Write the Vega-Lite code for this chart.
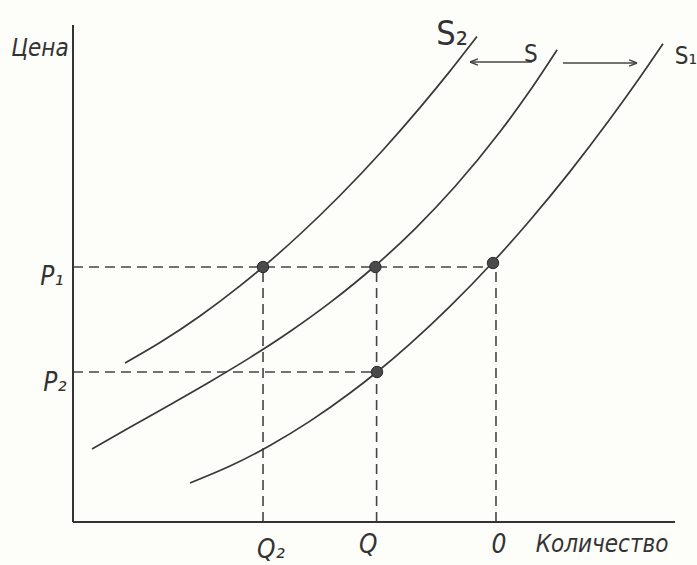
{
  "$schema": "https://vega.github.io/schema/vega-lite/v6.json",
  "width": 600,
  "height": 500,
  "autosize": {"type": "none"},
  "padding": {"left": 73, "top": 22, "right": 24, "bottom": 43},
  "background": "#fdfdfa",
  "config": {"view": {"stroke": null}},
  "datasets": {
    "curves": [
      {"series": "S2", "q": 8.67, "p": 31.8},
      {"series": "S2", "q": 14.5, "p": 35.89},
      {"series": "S2", "q": 21.17, "p": 41.21},
      {"series": "S2", "q": 27.83, "p": 47.23},
      {"series": "S2", "q": 31.67, "p": 51.0},
      {"series": "S2", "q": 37.83, "p": 57.55},
      {"series": "S2", "q": 44.5, "p": 65.3},
      {"series": "S2", "q": 51.67, "p": 74.4},
      {"series": "S2", "q": 57.83, "p": 82.87},
      {"series": "S2", "q": 62.83, "p": 90.17},
      {"series": "S2", "q": 67.33, "p": 97.08},
      {"series": "S", "q": 3.17, "p": 14.6},
      {"series": "S", "q": 9.5, "p": 18.95},
      {"series": "S", "q": 16.17, "p": 23.46},
      {"series": "S", "q": 22.83, "p": 28.06},
      {"series": "S", "q": 29.5, "p": 32.88},
      {"series": "S", "q": 36.17, "p": 38.1},
      {"series": "S", "q": 42.83, "p": 43.87},
      {"series": "S", "q": 50.33, "p": 51.2},
      {"series": "S", "q": 57.0, "p": 58.64},
      {"series": "S", "q": 63.67, "p": 67.1},
      {"series": "S", "q": 71.17, "p": 78.04},
      {"series": "S", "q": 76.17, "p": 86.29},
      {"series": "S", "q": 80.67, "p": 94.42},
      {"series": "S1", "q": 19.5, "p": 7.8},
      {"series": "S1", "q": 26.17, "p": 11.18},
      {"series": "S1", "q": 32.83, "p": 15.3},
      {"series": "S1", "q": 39.5, "p": 20.17},
      {"series": "S1", "q": 46.17, "p": 25.79},
      {"series": "S1", "q": 50.67, "p": 30.0},
      {"series": "S1", "q": 56.17, "p": 35.62},
      {"series": "S1", "q": 62.83, "p": 43.12},
      {"series": "S1", "q": 70.0, "p": 52.0},
      {"series": "S1", "q": 76.17, "p": 60.36},
      {"series": "S1", "q": 82.83, "p": 70.08},
      {"series": "S1", "q": 89.5, "p": 80.58},
      {"series": "S1", "q": 94.5, "p": 88.94},
      {"series": "S1", "q": 98.33, "p": 95.64}
    ],
    "points": [
      {"q": 31.67, "p": 51.0},
      {"q": 50.4, "p": 51.0},
      {"q": 70.0, "p": 51.8},
      {"q": 50.67, "p": 30.0}
    ],
    "dashes": [
      {"q": 0, "p": 51.0, "q2": 70.0, "p2": 51.0},
      {"q": 0, "p": 30.0, "q2": 50.67, "p2": 30.0},
      {"q": 31.67, "p": 0, "q2": 31.67, "p2": 51.0},
      {"q": 50.6, "p": 0, "q2": 50.6, "p2": 51.0},
      {"q": 70.5, "p": 0, "q2": 70.5, "p2": 51.8}
    ],
    "axes": [
      {"q": 0, "p": 0, "q2": 0, "p2": 99.4},
      {"q": 0, "p": 0, "q2": 100.33, "p2": 0}
    ],
    "arrows": [
      {"q": 66.17, "p": 92.0, "q2": 76.5, "p2": 92.0},
      {"q": 81.67, "p": 91.8, "q2": 94.0, "p2": 91.8}
    ],
    "heads": [
      {"dir": "left", "q": 66.17, "p": 92.0},
      {"dir": "right", "q": 94.0, "p": 91.8}
    ],
    "labels": [
      {"kind": "axis", "text": "Цена", "q": -5.5, "p": 94.6},
      {"kind": "axis", "text": "Количество", "q": 88.17, "p": -4.6},
      {"kind": "level", "text": "P₁", "q": -3.5, "p": 49.0},
      {"kind": "level", "text": "P₂", "q": -3.0, "p": 27.8},
      {"kind": "level", "text": "Q₂", "q": 33.0, "p": -5.6},
      {"kind": "level", "text": "Q", "q": 49.2, "p": -4.6},
      {"kind": "level", "text": "0", "q": 71.0, "p": -4.6},
      {"kind": "big", "text": "S₂", "q": 63.2, "p": 97.4},
      {"kind": "curve", "text": "S", "q": 76.3, "p": 93.4},
      {"kind": "curveRight", "text": "S₁", "q": 100.3, "p": 93.0}
    ]
  },
  "encoding": {
    "x": {"field": "q", "type": "quantitative", "scale": {"domain": [0, 100], "nice": false, "zero": false}, "axis": null},
    "y": {"field": "p", "type": "quantitative", "scale": {"domain": [0, 100], "nice": false, "zero": false}, "axis": null}
  },
  "layer": [
    {
      "data": {"name": "dashes"},
      "mark": {"type": "rule", "color": "#444", "strokeWidth": 1.6, "strokeDash": [10, 6]},
      "encoding": {"x2": {"field": "q2"}, "y2": {"field": "p2"}}
    },
    {
      "data": {"name": "axes"},
      "mark": {"type": "rule", "color": "#333", "strokeWidth": 2},
      "encoding": {"x2": {"field": "q2"}, "y2": {"field": "p2"}}
    },
    {
      "data": {"name": "curves"},
      "mark": {"type": "line", "interpolate": "monotone", "color": "#383838"},
      "encoding": {
        "strokeWidth": {"field": "series", "type": "nominal", "scale": {"domain": ["S2", "S", "S1"], "range": [1.7, 1.7, 2.9]}, "legend": null}
      }
    },
    {
      "data": {"name": "points"},
      "mark": {"type": "point", "filled": true, "size": 130, "color": "#4a4a4a", "stroke": "#2a2a2a", "strokeWidth": 1, "opacity": 1}
    },
    {
      "data": {"name": "arrows"},
      "mark": {"type": "rule", "color": "#444", "strokeWidth": 1.5},
      "encoding": {"x2": {"field": "q2"}, "y2": {"field": "p2"}}
    },
    {
      "data": {"name": "heads"},
      "mark": {"type": "point", "filled": false, "size": 250, "color": "#444", "strokeWidth": 1.5, "opacity": 1},
      "encoding": {
        "shape": {"field": "dir", "type": "nominal", "scale": {"domain": ["left", "right"], "range": ["M0,0L1,-0.4M0,0L1,0.4", "M0,0L-1,-0.4M0,0L-1,0.4"]}, "legend": null}
      }
    },
    {
      "data": {"name": "labels"},
      "transform": [{"filter": "datum.kind === 'axis'"}],
      "mark": {"type": "text", "font": "Liberation Sans Narrow, DejaVu Sans Condensed, sans-serif", "fontStyle": "italic", "fontSize": 24, "color": "#333", "align": "center", "baseline": "middle"},
      "encoding": {"text": {"field": "text"}}
    },
    {
      "data": {"name": "labels"},
      "transform": [{"filter": "datum.kind === 'level'"}],
      "mark": {"type": "text", "font": "Liberation Sans Narrow, DejaVu Sans Condensed, sans-serif", "fontStyle": "italic", "fontSize": 26, "color": "#333", "align": "center", "baseline": "middle"},
      "encoding": {"text": {"field": "text"}}
    },
    {
      "data": {"name": "labels"},
      "transform": [{"filter": "datum.kind === 'big'"}],
      "mark": {"type": "text", "font": "Liberation Sans Narrow, DejaVu Sans Condensed, sans-serif", "fontSize": 34, "color": "#333", "align": "center", "baseline": "middle"},
      "encoding": {"text": {"field": "text"}}
    },
    {
      "data": {"name": "labels"},
      "transform": [{"filter": "datum.kind === 'curve'"}],
      "mark": {"type": "text", "font": "Liberation Sans Narrow, DejaVu Sans Condensed, sans-serif", "fontSize": 24, "color": "#333", "align": "center", "baseline": "middle"},
      "encoding": {"text": {"field": "text"}}
    },
    {
      "data": {"name": "labels"},
      "transform": [{"filter": "datum.kind === 'curveRight'"}],
      "mark": {"type": "text", "font": "Liberation Sans Narrow, DejaVu Sans Condensed, sans-serif", "fontSize": 24, "color": "#333", "align": "left", "baseline": "middle"},
      "encoding": {"text": {"field": "text"}}
    }
  ]
}
